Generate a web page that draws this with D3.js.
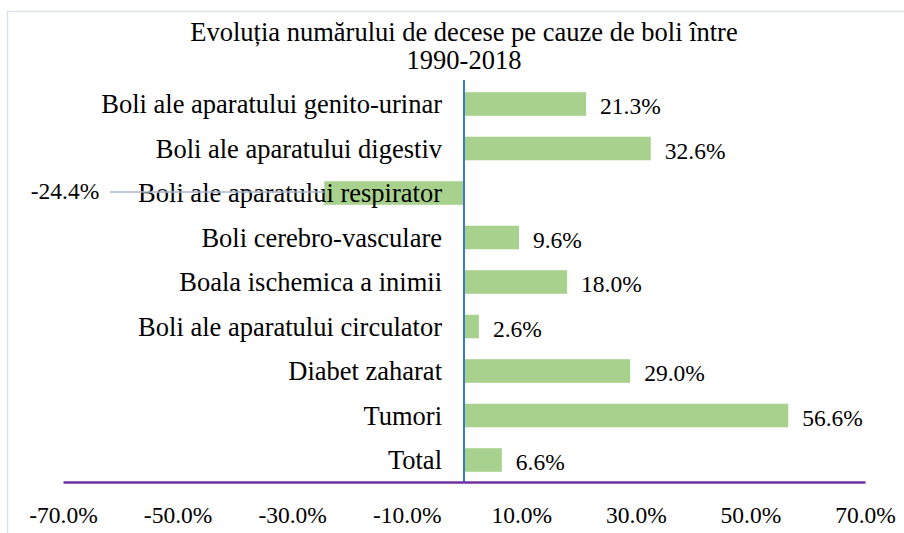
<!DOCTYPE html>
<html>
<head>
<meta charset="utf-8">
<title>Evoluția numărului de decese</title>
<script src="https://cdn.jsdelivr.net/npm/d3@7"></script>
<style>
  html, body { margin: 0; padding: 0; background: #fff; }
  svg text { font-family: "Liberation Serif", "Times New Roman", serif; fill: #000; }
</style>
</head>
<body>
<div id="chart"></div>
<script>
// categories, top to bottom
var categories = [
  "Boli ale aparatului genito-urinar",
  "Boli ale aparatului digestiv",
  "Boli ale aparatului respirator",
  "Boli cerebro-vasculare",
  "Boala ischemica a inimii",
  "Boli ale aparatului circulator",
  "Diabet zaharat",
  "Tumori",
  "Total"
];
var values = [21.3, 32.6, -24.4, 9.6, 18.0, 2.6, 29.0, 56.6, 6.6];
var ticks = [-70, -50, -30, -10, 10, 30, 50, 70];
var titleLines = ["Evoluția numărului de decese pe cauze de boli între", "1990-2018"];

var W = 904, H = 533;
var svg = d3.select("#chart").append("svg").attr("width", W).attr("height", H);

// outer chart border (runs off the right/bottom edge)
svg.append("rect")
  .attr("x", 7.5).attr("y", 11.5).attr("width", W + 10).attr("height", H + 10)
  .attr("fill", "none").attr("stroke", "#dde2e9").attr("stroke-width", 1.5);

var x = d3.scaleLinear().domain([-70, 70]).range([63, 865]);
var y = d3.scaleBand().domain(categories)
  .range([81.75, 482.25]).paddingInner(0.47).paddingOuter(0.235);

svg.selectAll("text.title").data(titleLines).enter()
  .append("text").attr("class", "title")
  .attr("x", 464).attr("y", function(d, i) { return 41 + i * 28; })
  .attr("text-anchor", "middle").style("font-size", "26.5px")
  .text(function(d) { return d; });

// bars
svg.selectAll("rect.bar").data(values).enter()
  .append("rect").attr("class", "bar")
  .attr("x", function(d) { return Math.min(x(0), x(d)); })
  .attr("y", function(d, i) { return y(categories[i]); })
  .attr("width", function(d) { return Math.abs(x(d) - x(0)); })
  .attr("height", y.bandwidth())
  .attr("fill", "#a9d18e");

// category labels
svg.selectAll("text.cat").data(categories).enter()
  .append("text").attr("class", "cat")
  .attr("x", x(0) - 22)
  .attr("y", function(d) { return y(d) + y.bandwidth() / 2; })
  .attr("dy", "0.35em").attr("text-anchor", "end")
  .style("font-size", "26.5px")
  .text(function(d) { return d; });

// value labels
var fmt = function(v) { return v.toFixed(1) + "%"; };
values.forEach(function(v, i) {
  var cy = y(categories[i]) + y.bandwidth() / 2;
  if (v >= 0) {
    svg.append("text")
      .attr("x", x(v) + 14).attr("y", cy + 2).attr("dy", "0.35em")
      .style("font-size", "23.5px").text(fmt(v));
  } else {
    // label pulled out to the left with a leader line
    svg.append("line")
      .attr("x1", 110).attr("x2", x(v)).attr("y1", cy - 1).attr("y2", cy - 1)
      .attr("stroke", "#a9b8cc").attr("stroke-width", 1.5);
    svg.append("text")
      .attr("x", 65).attr("y", cy - 2).attr("dy", "0.35em")
      .attr("text-anchor", "middle")
      .style("font-size", "23.5px").text(fmt(v));
  }
});

// vertical zero line
svg.append("line")
  .attr("x1", x(0)).attr("x2", x(0)).attr("y1", 80).attr("y2", 482)
  .attr("stroke", "#3b7dc4").attr("stroke-width", 2);

// horizontal axis
var axis = svg.append("g").attr("transform", "translate(0,482)")
  .call(d3.axisBottom(x).tickValues(ticks).tickSize(0).tickPadding(24)
    .tickFormat(fmt));
axis.select(".domain").attr("stroke", "#7030a0").attr("stroke-width", 2.5);
axis.selectAll("text").style("font-size", "23.5px")
  .style("font-family", "'Liberation Serif', 'Times New Roman', serif").attr("fill", "#000");
</script>
</body>
</html>
